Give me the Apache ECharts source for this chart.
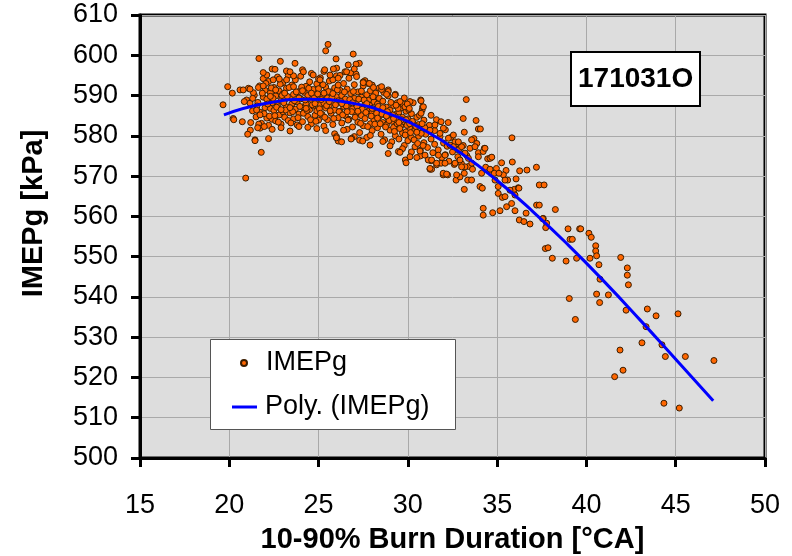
<!DOCTYPE html>
<html><head><meta charset="utf-8">
<script src="https://cdn.jsdelivr.net/npm/echarts@6/dist/echarts.min.js"></script>
<style>html,body{margin:0;padding:0;background:#fff}#c{width:792px;height:556px}</style>
</head><body><div id="c"></div>
<script>
const xTickValues = [15, 20, 25, 30, 35, 40, 45, 50];
const yTickValues = [500, 510, 520, 530, 540, 550, 560, 570, 580, 590, 600, 610];
const xAxisTitle = '10-90% Burn Duration [°CA]';
const yAxisTitle = 'IMEPg [kPa]';
const runLabel = '171031O';
const scatterName = 'IMEPg';
const trendName = 'Poly. (IMEPg)';

// Dense core of the cloud (burn duration [°CA], IMEPg [kPa])
const coreA = [
[21.3,586.2],[21.4,590.1],[21.5,584.7],[21.6,588.3],[21.7,592.4],[21.7,585.9],[21.8,583.1],[21.9,589.6],[21.9,594.2],[22.0,587.0],[22.0,591.3],[22.1,584.4],[22.1,589.1],[22.2,582.6],[22.2,593.5],[22.3,586.8],[22.3,590.7],[22.4,588.2],[22.4,584.1],[22.5,592.0],[22.5,586.3],[22.6,589.9],[22.6,583.7],[22.7,594.6],[22.7,587.5],[22.8,591.1],[22.8,585.2],[22.9,588.8],[22.9,582.9],[23.0,590.4],[23.0,586.0],[23.0,593.2],
[23.1,584.6],[23.1,588.9],[23.2,591.8],[23.2,587.2],[23.3,583.8],[23.3,595.0],[23.4,589.5],[23.4,585.7],[23.5,592.6],[23.5,587.9],[23.6,584.2],[23.6,590.3],[23.7,586.6],[23.7,593.9],[23.8,588.4],[23.8,582.7],[23.9,591.0],[23.9,585.4],[24.0,589.2],[24.0,594.8],[24.1,587.1],[24.1,583.5],[24.2,590.8],[24.2,585.9],[24.3,592.3],[24.3,588.0],[24.4,584.8],[24.4,590.0],[24.5,586.5],[24.5,593.4],[24.6,589.0],[24.6,583.0],[24.7,591.5],[24.7,587.4],[24.8,585.1],[24.8,589.8],[24.9,592.9],[24.9,586.2],[25.0,588.6],[25.0,583.9],[25.0,591.7]
];
const coreB = [
[25.1,587.8],[25.1,594.4],[25.2,585.3],[25.2,590.2],[25.3,588.1],[25.3,582.4],[25.4,592.1],[25.4,586.9],[25.5,589.4],[25.5,584.0],[25.6,593.6],[25.6,587.6],[25.7,590.9],[25.7,585.6],[25.8,588.3],[25.8,582.8],[25.9,591.9],[25.9,586.4],[26.0,589.7],[26.0,594.9],[26.1,584.5],[26.1,588.7],[26.2,591.3],[26.2,586.1],[26.3,583.2],[26.3,590.0],[26.4,587.3],[26.4,593.0],[26.5,585.0],[26.5,589.1],[26.6,581.6],[26.6,591.6],[26.7,587.0],[26.7,584.1],[26.8,590.5],[26.8,595.6],[26.9,586.7],[26.9,582.2],[27.0,589.3],[27.0,592.7],
[27.1,585.5],[27.1,588.0],[27.2,583.4],[27.2,590.9],[27.3,587.0],[27.3,580.8],[27.4,589.6],[27.4,585.0],[27.5,592.4],[27.5,582.5],[27.6,587.8],[27.6,584.3],[27.7,590.2],[27.7,579.6],[27.8,586.2],[27.8,588.8],[27.9,583.0],[27.9,591.2],[28.0,585.7],[28.0,581.3],[28.1,588.4],[28.1,584.0],[28.2,590.6],[28.2,586.6],[28.3,582.0],[28.3,587.9],[28.4,584.8],[28.4,589.3],[28.5,580.4],[28.5,586.0],[28.6,583.3],[28.6,588.6],[28.7,585.2],[28.7,579.0],[28.8,587.1],[28.8,582.7],[28.9,584.4],[28.9,589.9],[29.0,581.4],[29.0,586.4]
];
const coreC = [
[29.1,583.6],[29.1,578.5],[29.2,587.5],[29.2,582.1],[29.3,585.3],[29.3,580.0],[29.4,588.2],[29.4,583.0],[29.5,579.2],[29.5,585.9],[29.6,582.4],[29.6,586.9],[29.7,580.7],[29.7,584.6],[29.8,577.6],[29.8,583.5],[29.9,586.1],[29.9,581.0],[30.0,578.8],[30.0,584.2],[30.1,582.0],[30.2,585.5],[30.2,579.6],[30.3,583.1],[30.4,577.3],[30.4,581.6],[30.5,584.6],[30.6,579.9],[30.6,582.8],[30.7,576.4],[30.8,581.0],[30.9,583.9],[30.9,578.3],[31.0,580.4],
[31.1,577.1],[31.2,582.6],[31.3,579.2],[31.4,575.8],[31.5,581.3],[31.5,577.9],[31.6,584.0],[31.7,576.5],[31.8,579.8],[31.9,574.6],[32.0,578.2],[32.1,581.5],[32.1,575.3],[32.2,577.4],[32.3,573.7],[32.4,579.6],[32.5,576.0],[32.6,572.9],[32.7,578.0],[32.8,574.8],[32.9,576.8],[33.0,573.1],[33.1,577.6],[33.3,575.1],[33.4,572.4]
];
const coreD = [
[21.55,587.4],[21.65,582.9],[21.85,590.6],[21.95,585.5],[22.05,593.0],[22.15,587.9],[22.25,584.9],[22.35,591.9],[22.45,589.3],[22.55,585.0],[22.65,587.1],[22.75,583.4],[22.85,592.8],[22.95,590.0],[23.05,588.2],[23.15,586.4],[23.25,589.8],[23.35,592.0],[23.45,583.2],[23.55,586.0],[23.65,588.7],[23.75,590.9],[23.85,584.5],[23.95,587.3],[24.05,592.1],[24.15,585.6],[24.25,588.9],[24.35,586.3],[24.45,591.8],[24.55,584.0],[24.65,587.7],[24.75,589.4],[24.85,583.6],[24.95,590.4],[25.05,586.7],[25.15,589.0],[25.25,592.7],[25.35,584.6],[25.45,587.5],[25.55,591.0],[25.65,586.2],[25.75,589.5],[25.85,584.3],[25.95,587.7],[26.05,591.4],[26.15,586.0],[26.25,588.5],[26.35,585.2],[26.45,590.9],[26.55,587.4],[26.65,583.9],[26.75,589.0],[26.85,586.0],[26.95,591.0],[27.05,584.6],[27.15,587.3],[27.25,589.1],[27.35,583.1],[27.45,586.6],[27.55,588.9],[27.65,585.8],[27.75,582.3],[27.85,587.6],[27.95,584.9],[28.05,589.7],[28.15,582.9],[28.25,585.6],[28.35,587.3],[28.45,583.0],[28.55,585.4],[28.65,590.8],[28.75,582.2],[28.85,586.0],[28.95,583.8],[29.05,588.3],[29.15,585.2],[29.25,581.1],[29.35,584.0],[29.45,586.8],[29.55,581.8],[29.65,584.0],[29.75,587.8],[29.85,580.2],[29.95,582.6],[30.05,586.5],[30.15,580.8],[30.25,583.6],[30.35,579.0],[30.45,582.3],[30.55,578.1],[30.65,585.1],[30.75,580.6],[30.85,577.6],[30.95,582.0],
[22.3,589.8],[22.6,591.4],[22.9,586.5],[23.1,590.6],[23.4,587.0],[23.6,592.2],[23.9,589.4],[24.1,591.2],[24.3,586.8],[24.6,590.6],[24.8,588.0],[25.1,585.6],[25.3,590.6],[25.6,588.5],[25.8,590.5],[26.1,592.6],[26.3,588.0],[26.6,586.0],[26.9,588.2],[27.2,586.1],[27.4,591.1],[27.7,588.0],[28.0,586.8],[28.3,584.4],[28.6,587.0],[28.8,584.9],[29.2,584.3],[29.5,583.3],[29.9,584.0],[30.1,583.0],[30.5,580.9],[30.8,583.0]
];
// Upper and lower fringes of the cloud
const fringe = [
[22.1,595.1],[22.4,596.6],[22.8,594.1],[23.2,596.1],[23.6,594.9],[24.1,596.4],[24.6,595.5],[25.0,594.1],[25.3,596.0],[25.8,593.9],[26.2,595.0],[26.7,594.3],[27.1,595.3],[27.6,593.7],[28.0,592.6],[28.4,591.9],[28.9,591.4],[29.3,590.3],[29.8,589.4],[30.3,588.2],[30.8,586.4],[31.3,585.1],
[22.4,581.6],[22.9,582.0],[23.4,581.2],[23.9,582.3],[24.4,582.1],[24.9,581.8],[25.4,581.3],[25.9,580.5],[26.4,581.4],[27.0,579.8],[27.3,578.9],[27.9,580.1],[28.6,578.6],[29.0,577.5],[29.7,576.8],[30.2,576.0],[30.7,575.0],[31.3,573.8],
[22.46,593.9],[23.21,593.9],[24.7,595.1],[25.08,593.9],[26.01,596.8],[26.1,594.3],[26.48,595.9],[26.66,597.6],[27.5,593.4],[27.79,593.0],[28.07,592.0],[28.53,591.5],[28.9,591.0],[29.28,590.1],
[20.6,591.4],[21.07,591.8],[21.35,590.7],[21.63,592.0],[21.9,592.4],[20.22,584.3],[21.44,579.0],[21.72,581.9],[20.97,588.9],[21.16,588.1],[21.31,589.3],[21.53,586.4],[21.72,585.2],
[30.12,588.5],[29.84,587.2],[30.72,588.9],[30.83,587.2],[30.74,585.6]
];
// Isolated points around the cloud
const outliers = [
[19.65,587.7],[19.91,592.2],[20.17,590.6],[20.84,588.5],[20.25,584.0],[20.73,583.5],[21.2,583.3],[21.18,581.4],[21.03,580.4],[21.59,582.0],[21.44,578.8],[22.2,579.3],[21.79,575.9],[20.92,569.5],[21.96,582.3],[20.78,591.4],[21.16,591.6],
[21.66,599.2],[22.86,598.5],[23.68,598.0],[21.9,595.7],[22.56,596.5],[23.4,595.9],[24.15,595.9],[25.53,602.7],[25.4,601.1],[26.94,600.3],[25.98,599.1],[27.28,598.0],[27.1,597.8],[25.34,596.4],[25.83,596.6],[27.0,596.6],[25.64,595.1],[26.57,595.9],[27.13,594.7],[28.53,592.2],[27.84,593.0],[27.5,593.2],
[29.56,588.5],[29.97,587.9],[30.08,586.8],[30.74,588.7],[30.87,587.2],[29.34,587.6],[28.81,590.3],
[26.0,579.8],[26.1,578.7],[26.85,579.4],[29.47,576.1],
[28.9,575.6],[29.56,575.9],[29.86,574.0],[30.12,574.8],[30.5,574.6],[29.9,573.3],[27.88,577.7],[27.47,578.7],[26.82,579.2],[26.29,578.5],[26.0,579.5],[30.68,576.2],[30.96,575.2],[31.14,574.0],[31.24,571.7]
];
// Sparser region between 31 and 37 °CA
const midRegion = [
[33.27,589.0],[33.1,584.3],[33.82,583.8],[33.95,581.7],[34.06,581.7],[35.83,579.5],[32.26,583.3],[33.7,579.3],[33.86,578.1],[34.28,576.9],[33.95,575.8],[34.47,574.3],[34.66,574.6],[35.25,573.3],[35.85,573.5],[34.96,571.9],[35.5,571.4],[35.35,570.3],[36.67,571.5],[36.26,571.3],[37.2,572.2],[36.06,569.3],[35.59,569.0],[34.69,570.7],[34.88,569.0],[35.06,567.4],[35.96,566.7],[36.18,567.1],[37.36,567.8],[37.63,567.8],[35.06,565.7],[35.29,564.7],[33.16,566.7],[34.04,567.4],[34.17,567.0],[32.7,569.0],[32.92,569.8],[33.35,569.0],[33.57,569.0],[31.98,570.3],[32.23,570.3],[33.16,570.7],[33.62,571.7],[34.13,570.7],[31.33,571.7],[31.61,572.8],[31.86,573.2],
[31.24,581.4],[31.52,582.7],[31.86,583.5],[31.8,580.6],[31.99,581.9],[32.27,579.4],[32.55,580.2],[32.36,577.7],[32.64,578.5],[32.83,576.5],[33.01,577.3],[33.2,575.7],[32.92,574.0],[32.64,573.2],[33.39,574.4],[33.58,573.2],[33.2,572.3],[32.08,575.2],[31.71,575.2],[31.33,574.0],[31.61,573.2],[31.24,571.9],[33.48,576.9],[33.95,574.8],[33.76,577.3],[34.22,576.1],[33.16,580.9],[32.83,578.5],
[34.36,572.2],[34.6,571.7],[34.84,570.7],[35.1,570.7],[35.44,569.0],[35.72,566.5],[35.44,564.9],[36.0,565.3],[36.22,567.0],
[33.57,579.0],[34.32,576.9],[34.6,574.4],[34.7,574.7],[33.01,572.3],[32.73,570.3],[31.98,570.7],[32.17,570.5],[32.08,573.2],[32.55,577.3]
];
// Tail beyond 34 °CA
const tail = [
[34.22,562.0],[34.22,560.3],[34.75,560.9],[35.16,561.4],[35.53,562.4],[35.81,563.2],[36.0,561.4],[36.24,559.1],[36.5,558.7],[36.84,558.1],[36.62,560.8],[37.21,562.8],[37.36,562.8],[37.58,559.5],
[38.26,561.7],[37.55,559.4],[37.77,558.3],[37.72,557.2],[38.97,556.9],[39.62,556.9],[39.68,556.9],[40.14,555.8],[40.27,554.8],[39.08,554.3],[39.21,554.3],[40.52,552.7],[40.52,551.4],[40.57,550.2],[37.7,552.0],[37.85,552.2],[38.09,549.6],[38.86,548.9],[39.45,549.6],[40.2,549.6],[41.92,549.8],[40.7,548.0],[42.29,547.2],[42.29,545.4],[40.76,544.4],[42.35,543.0],
[39.04,539.6],[40.57,540.7],[41.23,540.5],[40.74,538.6],[39.38,534.4],[43.41,537.0],[42.22,536.7],[43.9,535.3],[45.13,535.8],[43.34,532.6],[43.11,528.6],[44.23,528.1],[41.88,526.8],[44.42,525.2],[45.54,525.2],[47.14,524.2],[42.05,521.8],[41.58,520.2],[44.34,513.6],[45.2,512.4]
];
// Polynomial trend line, read along its path
const trendX = [19.7, 22.0, 24.5, 27.0, 29.0, 31.0, 33.0, 35.0, 37.0, 39.0, 41.0, 43.0, 45.0, 47.1];
const trendY = [585.2, 588.0, 589.1, 588.0, 585.4, 581.2, 575.6, 568.9, 561.2, 552.8, 543.8, 534.3, 524.5, 514.2];

const FONT = "'Liberation Sans', Arial, sans-serif";
const allPoints = [].concat(coreA, coreB, coreC, coreD, fringe, outliers, midRegion, tail);
const trendData = trendX.map((x, i) => [x, trendY[i]]);

const chart = echarts.init(document.getElementById('c'), null, {renderer: 'canvas'});
const axisCommon = {
  type: 'value',
  axisLine: {show: true, onZero: false, lineStyle: {color: '#000', width: 3}},
  axisTick: {show: true, inside: false, length: 9, lineStyle: {color: '#000', width: 3}},
  splitLine: {show: true, lineStyle: {color: '#a9a9a9', width: 1}},
  nameLocation: 'middle',
  nameTextStyle: {fontSize: 29, fontWeight: 'bold', color: '#000', fontFamily: FONT}
};
chart.setOption({
  animation: false,
  backgroundColor: '#fff',
  grid: {left: 140, top: 15, right: 27, bottom: 98, show: true, backgroundColor: '#dddddd',
         borderColor: '#000', borderWidth: 3, containLabel: false, outerBoundsMode: 'none'},
  title: {text: runLabel, left: 571, top: 52, padding: [13, 7, 13, 7], backgroundColor: '#fff',
          borderColor: '#000', borderWidth: 2,
          textStyle: {fontSize: 28, fontWeight: 'bold', color: '#000', fontFamily: FONT}},
  graphic: [{type: 'rect', left: 210, top: 339, z: 3, shape: {width: 245, height: 90},
             style: {fill: '#fff', stroke: '#555', lineWidth: 1}}],
  legend: [
    {data: [{name: scatterName, icon: 'circle'}], left: 240, top: 349, itemWidth: 6, itemHeight: 6,
     padding: 0, z: 10, selectedMode: false,
     textStyle: {fontSize: 27, lineHeight: 28, color: '#000', fontFamily: FONT, padding: [0, 0, 0, 14]}},
    {data: [{name: trendName, icon: 'rect'}], left: 232, top: 393, itemWidth: 25, itemHeight: 3,
     padding: 0, z: 10, selectedMode: false,
     textStyle: {fontSize: 27, lineHeight: 28, color: '#000', fontFamily: FONT, padding: [0, 0, 0, 3]}}
  ],
  xAxis: Object.assign({}, axisCommon, {
    min: xTickValues[0], max: xTickValues[xTickValues.length - 1], interval: xTickValues[1] - xTickValues[0],
    name: xAxisTitle, nameGap: 67,
    axisLabel: {margin: 34, fontSize: 27, color: '#000', fontFamily: FONT}
  }),
  yAxis: Object.assign({}, axisCommon, {
    min: yTickValues[0], max: yTickValues[yTickValues.length - 1], interval: yTickValues[1] - yTickValues[0],
    name: yAxisTitle, nameGap: 92,
    nameTextStyle: {fontSize: 29, fontWeight: 'bold', color: '#000', fontFamily: FONT, padding: [0, 0, 0, 46]},
    axisLabel: {margin: 22, fontSize: 27, color: '#000', fontFamily: FONT}
  }),
  series: [
    {type: 'scatter', name: scatterName, data: allPoints, symbolSize: 6, z: 2,
     itemStyle: {color: '#ff6600', borderColor: '#3b1d00', borderWidth: 1, opacity: 1}},
    {type: 'line', name: trendName, data: trendData, showSymbol: false, smooth: 0.5, z: 3,
     lineStyle: {color: '#0000ff', width: 3}, itemStyle: {color: '#0000ff'}}
  ]
});
</script></body></html>
